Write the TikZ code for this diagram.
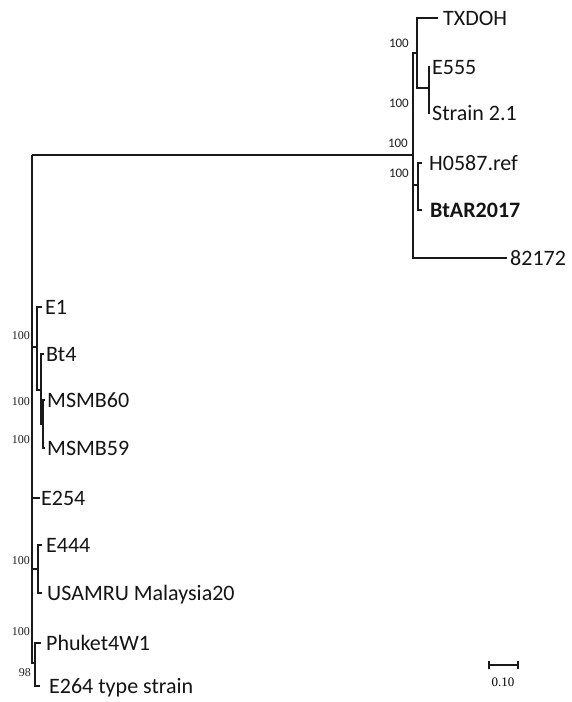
\documentclass[tikz,border=0pt]{standalone}
\usepackage{fontspec}
\setmainfont{Carlito}
\newfontfamily\bsfont{Liberation Serif}
\begin{document}
\begin{tikzpicture}[x=1pt,y=-1pt,
  br/.style={line width=2pt, draw=black!90, line join=miter},
  leaf/.style={anchor=west, inner sep=0pt, font=\fontsize{22}{22}\selectfont, text height=14pt, text depth=0pt, text=black!92},
  bs/.style={anchor=east, inner sep=0pt, font=\bsfont\fontsize{12}{12}\selectfont, text=black!88},
  bst/.style={anchor=east, inner sep=0pt, font=\fontsize{13}{13}\selectfont, text=black!88}]
\useasboundingbox[fill=white] (0,0) rectangle (571,702);

% internal nodes
\coordinate (R) at (32,155);
\coordinate (A) at (413,155);
\coordinate (C1) at (417,53);
\coordinate (C11) at (429,88);
\coordinate (C2) at (418,185);
\coordinate (E1n) at (37,347);
\coordinate (Bn) at (41,390);
\coordinate (Mn) at (43,424);
\coordinate (En) at (38,569);
\coordinate (P) at (35,663);

% leaves
\node[leaf] (txdoh) at (443,18) {TXDOH};
\node[leaf] (e555) at (432,67) {E555};
\node[leaf] (strain) at (432,113) {Strain 2.1};
\node[leaf] (h0587) at (429,163) {H0587.ref};
\node[leaf] (btar) at (430,210) {\bfseries BtAR2017};
\node[leaf] (n82172) at (510,258) {82172};
\node[leaf] (e1) at (45,307) {E1};
\node[leaf] (bt4) at (46,354) {Bt4};
\node[leaf] (msmb60) at (47,400) {MSMB60};
\node[leaf] (msmb59) at (47,448) {MSMB59};
\node[leaf] (e254) at (41,498) {E254};
\node[leaf] (e444) at (46,545) {E444};
\node[leaf] (usamru) at (47,593) {USAMRU Malaysia20};
\node[leaf] (phuket) at (46,643) {Phuket4W1};
\node[leaf] (e264) at (49,686) {E264 type strain};

% top clade
\draw[br] (R) -- (A);
\draw[br] (C1) -| (A) |- ([xshift=-3pt]n82172.west);
\draw[br] (A |- C2) -- (C2);
\draw[br] ([xshift=-5pt]txdoh.west) -| (C1) |- (C11);
\draw[br] ([xshift=-2pt]e555.west) -| (C11) |- ([xshift=-2pt]strain.west);
\draw[br] ([xshift=-7pt]h0587.west) -| (C2) |- ([xshift=-8pt]btar.west);

% left part
\draw[br] (R) |- (P);
\draw[br] (R |- E1n) -- (E1n);
\draw[br] ([xshift=-3pt]e1.west) -| (E1n) |- (Bn);
\draw[br] ([xshift=-2pt]bt4.west) -| (Bn) |- (Mn);
\draw[br] ([xshift=-2pt]msmb60.west) -| (Mn) |- ([xshift=-2pt]msmb59.west);
\draw[br] (R |- e254.west) -- ([xshift=-1pt]e254.west);
\draw[br] (R |- En) -- (En);
\draw[br] ([xshift=-4pt]e444.west) -| (En) |- ([xshift=-5pt]usamru.west);
\draw[br] ([xshift=-5pt]phuket.west) -| (P) |- ([xshift=-9pt]e264.west);

% bootstrap values
\node[bst] (b1) at (409,43) {100};
\node[bst] (b2) at (409,103) {100};
\node[bst] (b3) at (408,143) {100};
\node[bst] (b4) at (409,173) {100};
\node[bs] (b5) at (30,336) {100};
\node[bs] (b6) at (30,402) {100};
\node[bs] (b7) at (30,440) {100};
\node[bs] (b8) at (30,561) {100};
\node[bs] (b9) at (30,632) {100};
\node[bs] (b10) at (31,673) {98};

% scale bar
\coordinate (sb1) at (489,665);
\coordinate (sb2) at (518,665);
\draw[line width=1.6pt, draw=black!90] (sb1) -- (sb2);
\draw[line width=1.4pt, draw=black!90] ([yshift=-4pt]sb1) -- ([yshift=4pt]sb1);
\draw[line width=1.4pt, draw=black!90] ([yshift=-4pt]sb2) -- ([yshift=4pt]sb2);
\node[inner sep=0pt, font=\bsfont\fontsize{13}{13}\selectfont] (sbl) at (503,682) {0.10};
\end{tikzpicture}
\end{document}
